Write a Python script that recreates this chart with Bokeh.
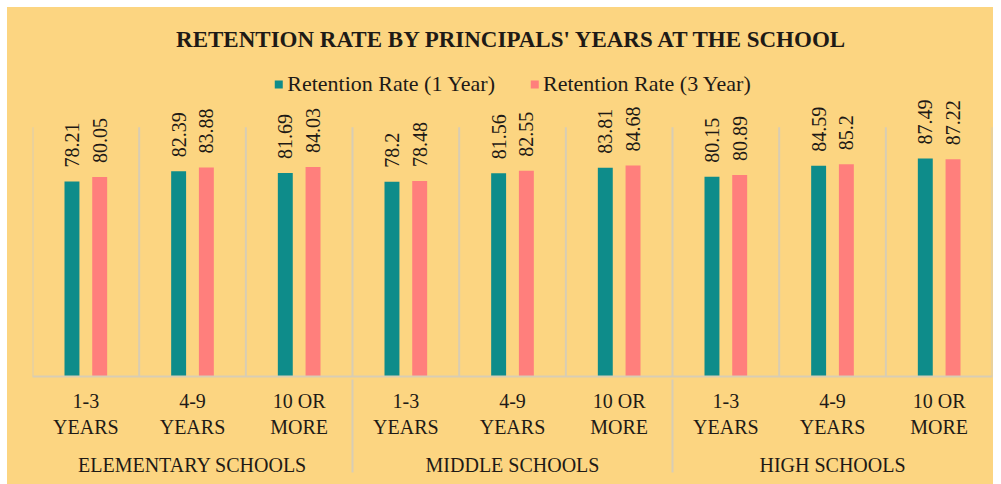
import math
from bokeh.plotting import figure
from bokeh.models import ColumnDataSource, FactorRange, Range1d, Legend, LegendItem
from bokeh.transform import dodge
from bokeh.core.properties import value
from bokeh.embed import file_html
from bokeh.resources import INLINE

# ---- data ----
groups = ["ELEMENTARY SCHOOLS", "MIDDLE SCHOOLS", "HIGH SCHOOLS"]
tenure = ["1-3\nYEARS", "4-9\nYEARS", "10 OR\nMORE"]
rate_1yr = [78.21, 82.39, 81.69, 78.2, 81.56, 83.81, 80.15, 84.59, 87.49]
rate_3yr = [80.05, 83.88, 84.03, 78.48, 82.55, 84.68, 80.89, 85.2, 87.22]
series_names = ["Retention Rate (1 Year)", "Retention Rate (3 Year)"]

BG = "#FCD581"
TEAL = "#0E8C8A"
SALMON = "#FF7F7C"
LINE = "#D8CDB4"
TXT = "#1E1A16"
SERIF = "Liberation Serif"

factors = [(g, t) for g in groups for t in tenure]
src = ColumnDataSource(dict(
    x=factors,
    r1=rate_1yr,
    r3=rate_3yr,
    l1=[str(v) for v in rate_1yr],
    l3=[str(v) for v in rate_3yr],
))

p = figure(
    width=986, height=477,
    x_range=FactorRange(*factors, range_padding=0, group_padding=0, subgroup_padding=0, factor_padding=0),
    y_range=Range1d(0, 124),
    output_backend="svg", toolbar_location=None,
    background_fill_color=BG, border_fill_color=BG,
    min_border_left=25, min_border_right=1, min_border_top=60, min_border_bottom=108,
)
p.margin = (7, 0, 0, 7)
p.styles = {"background-color": BG}
p.outline_line_color = None

# category boundary lines (grid between categories)
bounds = [[g, t, -0.5] for (g, t) in factors] + [[factors[-1][0], factors[-1][1], 0.5]]
grid_src = ColumnDataSource(dict(x=bounds, y0=[0] * len(bounds), y1=[100] * len(bounds)))
p.segment(x0="x", x1="x", y0="y0", y1="y1", source=grid_src,
          line_color=LINE, line_width=2)

off = 0.13
w = 0.14
b1 = p.vbar(x=dodge("x", -off, range=p.x_range), top="r1", width=w, source=src,
            fill_color=TEAL, line_color=None)
b3 = p.vbar(x=dodge("x", off, range=p.x_range), top="r3", width=w, source=src,
            fill_color=SALMON, line_color=None)

for col, lab, d in (("r1", "l1", -off), ("r3", "l3", off)):
    p.text(x=dodge("x", d, range=p.x_range), y=col, text=lab, source=src,
           angle=math.pi / 2, text_align="left", text_baseline="middle",
           y_offset=-14, text_font=value(SERIF), text_font_size="20px",
           text_color=TXT)

legend = Legend(items=[LegendItem(label=series_names[0], renderers=[b1]),
                       LegendItem(label=series_names[1], renderers=[b3])],
                orientation="horizontal", location="top_center",
                label_text_font=SERIF, label_text_font_size="22px", label_text_color=TXT,
                glyph_width=10, glyph_height=10, label_standoff=4, spacing=34,
                background_fill_alpha=0, border_line_alpha=0, margin=2, padding=2)
p.add_layout(legend)

p.title.text = "RETENTION RATE BY PRINCIPALS' YEARS AT THE SCHOOL"
p.title.align = "center"
p.title.text_font = SERIF
p.title.text_font_style = "bold"
p.title.text_font_size = "23px"
p.title.text_color = TXT
p.title.standoff = 32

p.yaxis.visible = False
p.ygrid.grid_line_color = None
p.xgrid.grid_line_color = None

ax = p.xaxis[0]
ax.axis_line_color = LINE
ax.axis_line_width = 2
ax.major_tick_line_color = None
ax.minor_tick_line_color = None
ax.major_tick_out = 0
ax.major_tick_in = 0
ax.major_label_text_font = SERIF
ax.major_label_text_font_size = "20px"
ax.major_label_text_color = TXT
ax.major_label_standoff = 13
ax.group_text_font = SERIF
ax.group_text_font_size = "20px"
ax.group_text_color = TXT
ax.group_text_font_style = "normal"
ax.separator_line_color = LINE
ax.separator_line_width = 2

open("out.html", "w").write(file_html(p, INLINE))
